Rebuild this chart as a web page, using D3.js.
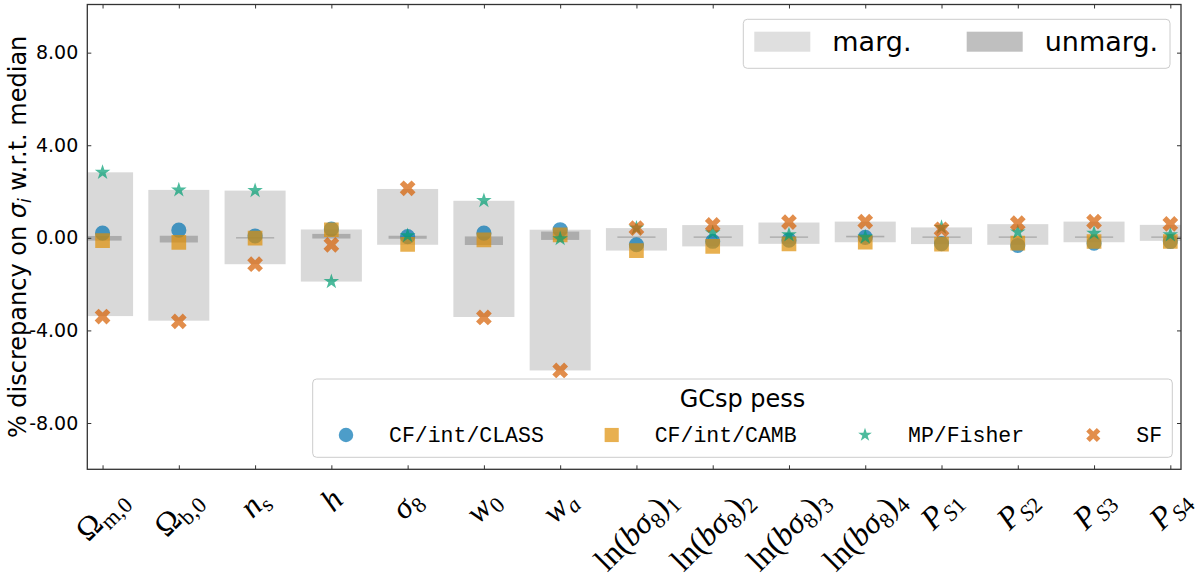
<!DOCTYPE html>
<html>
<head>
<meta charset="utf-8">
<script src="https://cdn.jsdelivr.net/npm/d3@7"></script>
<style>
  html, body { margin: 0; padding: 0; background: #fff; }
  svg { display: block; }
</style>
</head>
<body>
<svg id="chart" width="1200" height="581"></svg>
<script>
// parameter names (index 0..14)
var categories = ["Om_m0", "Om_b0", "n_s", "h", "sigma8", "w0", "wa",
    "lnbs8_1", "lnbs8_2", "lnbs8_3", "lnbs8_4", "P_S1", "P_S2", "P_S3", "P_S4"];

// tick label pieces: [text, italic, subscript]
var tickLabels = [
    [["Ω", 0, 0], ["m,0", 0, 1]],
    [["Ω", 0, 0], ["b,0", 0, 1]],
    [["n", 1, 0], ["s", 0, 1]],
    [["h", 1, 0]],
    [["σ", 1, 0], ["8", 0, 1]],
    [["w", 1, 0], ["0", 0, 1]],
    [["w", 1, 0], ["a", 1, 1]],
    [["ln(", 0, 0], ["bσ", 1, 0], ["8", 0, 1], [")", 0, 0], ["1", 0, 1]],
    [["ln(", 0, 0], ["bσ", 1, 0], ["8", 0, 1], [")", 0, 0], ["2", 0, 1]],
    [["ln(", 0, 0], ["bσ", 1, 0], ["8", 0, 1], [")", 0, 0], ["3", 0, 1]],
    [["ln(", 0, 0], ["bσ", 1, 0], ["8", 0, 1], [")", 0, 0], ["4", 0, 1]],
    [["P", 1, 0], ["S", 1, 1], ["1", 0, 1]],
    [["P", 1, 0], ["S", 1, 1], ["2", 0, 1]],
    [["P", 1, 0], ["S", 1, 1], ["3", 0, 1]],
    [["P", 1, 0], ["S", 1, 1], ["4", 0, 1]]
];

// % discrepancy per method
var cfClass  = [0.20, 0.33, 0.08, 0.38, 0.05, 0.20, 0.35, -0.30, -0.15, -0.10, 0.02, -0.25, -0.33, -0.23, -0.16];
var cfCamb   = [-0.12, -0.20, -0.01, 0.35, -0.28, -0.09, 0.13, -0.55, -0.37, -0.26, -0.19, -0.27, -0.23, -0.16, -0.16];
var mpFisher = [2.83, 2.07, 2.04, -1.89, 0.09, 1.61, -0.04, 0.42, 0.22, 0.13, 0.03, 0.45, 0.25, 0.20, 0.13];
var sf       = [-3.40, -3.61, -1.14, -0.30, 2.14, -3.44, -5.73, 0.42, 0.56, 0.68, 0.70, 0.37, 0.63, 0.70, 0.60];

// marginalised / unmarginalised spread (low, high)
var margLow  = [-3.38, -3.58, -1.14, -1.89, -0.30, -3.42, -5.73, -0.55, -0.37, -0.26, -0.19, -0.27, -0.30, -0.19, -0.13];
var margHigh = [2.83, 2.07, 2.04, 0.36, 2.11, 1.60, 0.35, 0.42, 0.55, 0.66, 0.70, 0.45, 0.59, 0.70, 0.56];
var unmLow   = [-0.12, -0.20, -0.03, -0.03, -0.04, -0.31, -0.09, 0.00, 0.00, 0.00, 0.02, 0.00, 0.00, 0.00, 0.00];
var unmHigh  = [0.08, 0.09, 0.03, 0.17, 0.09, 0.06, 0.27, 0.06, 0.06, 0.06, 0.09, 0.06, 0.06, 0.06, 0.06];

var yTicks = [-8, -4, 0, 4, 8];
var methodNames = ["CF/int/CLASS", "CF/int/CAMB", "MP/Fisher", "SF"];
var spreadNames = ["marg.", "unmarg."];
var legendTitle = "GCsp pess";

var svg = d3.select("#chart");
var pLeft = 87.3, pRight = 1181, pTop = 4.5, pBottom = 469.3;

var x = d3.scaleLinear().domain([-0.2, 14.14]).range([pLeft, pRight]);
var y = d3.scaleLinear().domain([-10, 10.08]).range([pBottom, pTop]);

var colors = ["#0173B2", "#DE8F05", "#029E73", "#D55E00"];
var series = [cfClass, cfCamb, mpFisher, sf];

// symbols: circle, square, star, X (rotated cross)
var shapes = [
    { type: d3.symbolCircle, size: 180, rot: 0 },
    { type: d3.symbolSquare, size: 215, rot: 0 },
    { type: d3.symbolStar, size: 75, rot: 0 },
    { type: d3.symbolCross, size: 155, rot: 45 }
];

svg.append("defs").append("clipPath").attr("id", "plotclip")
    .append("rect")
    .attr("x", pLeft).attr("y", pTop)
    .attr("width", pRight - pLeft).attr("height", pBottom - pTop);

var plot = svg.append("g").attr("clip-path", "url(#plotclip)");

// marginalised bars (width 0.8)
plot.append("g").selectAll("rect")
    .data(categories)
    .join("rect")
    .attr("x", function (d, i) { return x(i - 0.4); })
    .attr("width", x(0.8) - x(0))
    .attr("y", function (d, i) { return y(margHigh[i]); })
    .attr("height", function (d, i) { return y(margLow[i]) - y(margHigh[i]); })
    .attr("fill", "#808080")
    .attr("fill-opacity", 0.3);

// unmarginalised bars (width 0.5)
plot.append("g").selectAll("rect")
    .data(categories)
    .join("rect")
    .attr("x", function (d, i) { return x(i - 0.25); })
    .attr("width", x(0.5) - x(0))
    .attr("y", function (d, i) { return y(unmHigh[i]); })
    .attr("height", function (d, i) { return Math.max(1.2, y(unmLow[i]) - y(unmHigh[i])); })
    .attr("fill", "#808080")
    .attr("fill-opacity", 0.5);

// markers
series.forEach(function (vals, k) {
    var sym = d3.symbol().type(shapes[k].type).size(shapes[k].size);
    plot.append("g").selectAll("path")
        .data(vals)
        .join("path")
        .attr("d", sym)
        .attr("transform", function (d, i) {
            return "translate(" + x(i) + "," + y(d) + ") rotate(" + shapes[k].rot + ")";
        })
        .attr("fill", colors[k])
        .attr("fill-opacity", 0.7);
});

// axes with inward ticks
var tickCol = "#333";
function styleAxis(g) {
    g.select(".domain").remove();
    g.selectAll(".tick line").attr("stroke", tickCol).attr("stroke-width", 1);
}

svg.append("g")
    .attr("transform", "translate(" + pLeft + ",0)")
    .call(d3.axisLeft(y).tickValues(yTicks).tickSize(-4).tickPadding(9)
        .tickFormat(function (d) { return d.toFixed(2); }))
    .call(styleAxis)
    .selectAll("text")
    .attr("font-family", "DejaVu Sans")
    .attr("font-size", 19)
    .attr("fill", "#000");

svg.append("g")
    .attr("transform", "translate(" + pRight + ",0)")
    .call(d3.axisRight(y).tickValues(yTicks).tickSize(-4).tickFormat(""))
    .call(styleAxis);

svg.append("g")
    .attr("transform", "translate(0," + pBottom + ")")
    .call(d3.axisBottom(x).tickValues(d3.range(categories.length)).tickSize(-4).tickFormat(""))
    .call(styleAxis);

svg.append("g")
    .attr("transform", "translate(0," + pTop + ")")
    .call(d3.axisTop(x).tickValues(d3.range(categories.length)).tickSize(-4).tickFormat(""))
    .call(styleAxis);

svg.append("rect")
    .attr("x", pLeft).attr("y", pTop)
    .attr("width", pRight - pLeft).attr("height", pBottom - pTop)
    .attr("fill", "none")
    .attr("stroke", "#333")
    .attr("stroke-width", 1.3);

// rotated math tick labels, centred under each tick
var fs = 32;
var labTop = pBottom + 12;
var ang = -45 * Math.PI / 180;
tickLabels.forEach(function (parts, i) {
    var g = svg.append("g");
    var t = g.append("text")
        .attr("font-family", "Liberation Serif, DejaVu Serif, serif")
        .attr("font-size", fs)
        .attr("fill", "#000");
    var shift = 0;
    parts.forEach(function (p) {
        var target = p[2] ? 0.2 * fs : 0;
        t.append("tspan")
            .attr("dy", target - shift)
            .attr("font-size", p[2] ? fs * 0.7 : fs)
            .attr("font-style", p[1] ? "italic" : "normal")
            .text(p[0]);
        shift = target;
    });
    var b = t.node().getBBox();
    var corners = [[b.x, b.y], [b.x + b.width, b.y], [b.x, b.y + b.height], [b.x + b.width, b.y + b.height]]
        .map(function (c) {
            return [c[0] * Math.cos(ang) - c[1] * Math.sin(ang), c[0] * Math.sin(ang) + c[1] * Math.cos(ang)];
        });
    var minX = d3.min(corners, function (c) { return c[0]; });
    var maxX = d3.max(corners, function (c) { return c[0]; });
    var minY = d3.min(corners, function (c) { return c[1]; });
    g.attr("transform", "translate(" + (x(i) - (minX + maxX) / 2) + "," + (labTop - minY) + ") rotate(-45)");
});

// y label
var yl = svg.append("text")
    .attr("transform", "translate(25.5," + ((pTop + pBottom) / 2) + ") rotate(-90)")
    .attr("text-anchor", "middle")
    .attr("font-family", "DejaVu Sans")
    .attr("font-size", 24)
    .attr("fill", "#000");
yl.append("tspan").text("% discrepancy on ");
yl.append("tspan").attr("font-style", "italic").text("σ");
yl.append("tspan").attr("font-style", "italic").attr("font-size", 17).attr("dy", 5).text("i");
yl.append("tspan").attr("dy", -5).text(" w.r.t. median");

// legend: marg / unmarg
var lg1 = svg.append("g");
lg1.append("rect")
    .attr("x", 743.3).attr("y", 19.3).attr("width", 426.7).attr("height", 49)
    .attr("rx", 4)
    .attr("fill", "#fff").attr("fill-opacity", 0.8)
    .attr("stroke", "#cccccc").attr("stroke-width", 1);
var spreadPos = [754.3, 966.7];
var spreadOp = [0.25, 0.5];
spreadNames.forEach(function (n, k) {
    lg1.append("rect")
        .attr("x", spreadPos[k]).attr("y", 31.7).attr("width", 56).attr("height", 20)
        .attr("fill", "#808080").attr("fill-opacity", spreadOp[k]);
    lg1.append("text")
        .attr("x", spreadPos[k] + 78).attr("y", 50.5)
        .attr("font-family", "DejaVu Sans")
        .attr("font-size", 27)
        .attr("fill", "#000")
        .text(n);
});

// legend: methods
var lg2 = svg.append("g");
lg2.append("rect")
    .attr("x", 312.7).attr("y", 379).attr("width", 859.6).attr("height", 78.3)
    .attr("rx", 4)
    .attr("fill", "#fff").attr("fill-opacity", 0.8)
    .attr("stroke", "#cccccc").attr("stroke-width", 1);
lg2.append("text")
    .attr("x", 742.5).attr("y", 406.5)
    .attr("text-anchor", "middle")
    .attr("font-family", "DejaVu Sans")
    .attr("font-size", 24)
    .attr("fill", "#000")
    .text(legendTitle);
var markX = [346, 611.7, 865, 1093.3];
var legSizes = [165, 200, 58, 125];
methodNames.forEach(function (n, k) {
    lg2.append("path")
        .attr("d", d3.symbol().type(shapes[k].type).size(legSizes[k]))
        .attr("transform", "translate(" + markX[k] + ",435) rotate(" + shapes[k].rot + ")")
        .attr("fill", colors[k])
        .attr("fill-opacity", 0.7);
    lg2.append("text")
        .attr("x", markX[k] + 43).attr("y", 442)
        .attr("font-family", "Liberation Mono, DejaVu Sans Mono, monospace")
        .attr("font-size", 21.5)
        .attr("fill", "#000")
        .text(n);
});
</script>
</body>
</html>
